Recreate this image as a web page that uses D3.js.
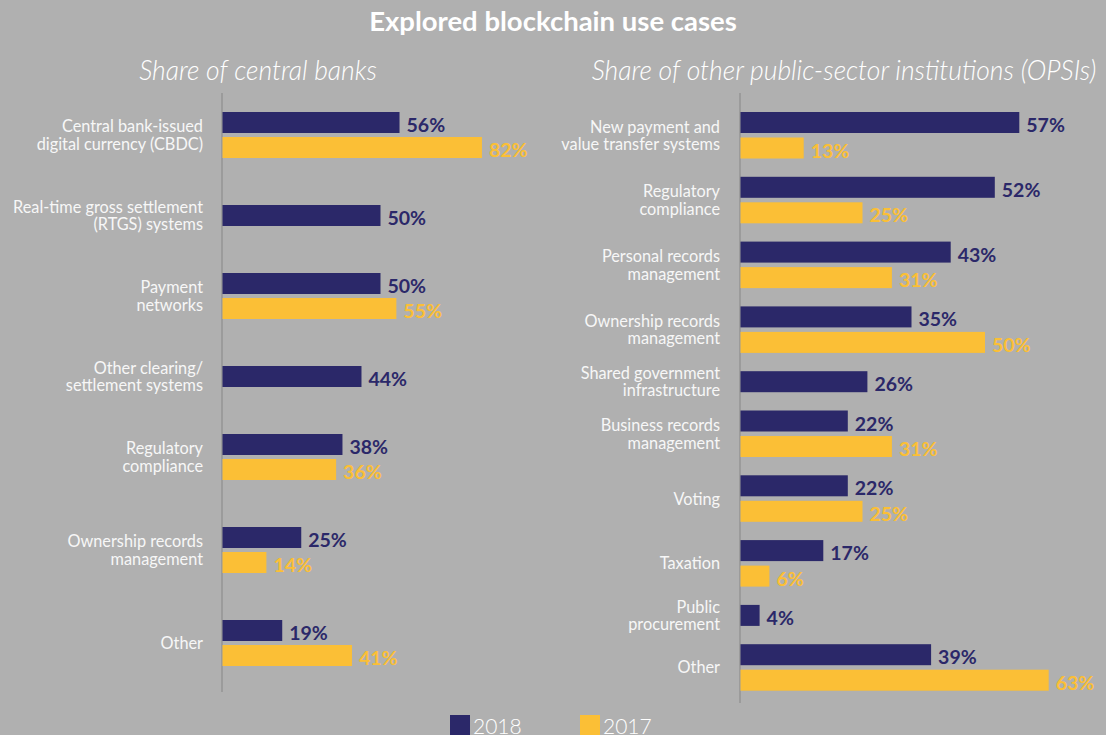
<!DOCTYPE html>
<html>
<head>
<meta charset="utf-8">
<script src="https://cdn.jsdelivr.net/npm/d3@7"></script>
<style>
  body { margin: 0; background: #b0b0b0; }
  svg { display: block; }
</style>
</head>
<body>
<script>
var W = 1106, H = 735;

// left panel: central banks
var cbCategories = ["Central bank-issued\ndigital currency (CBDC)", "Real-time gross settlement\n(RTGS) systems",
	"Payment\nnetworks", "Other clearing/\nsettlement systems", "Regulatory\ncompliance",
	"Ownership records\nmanagement", "Other"];
var cb2018 = [56, 50, 50, 44, 38, 25, 19];
var cb2017 = [82, null, 55, null, 36, 14, 41];

// right panel: OPSIs
var opsiCategories = ["New payment and\nvalue transfer systems", "Regulatory\ncompliance",
	"Personal records\nmanagement", "Ownership records\nmanagement", "Shared government\ninfrastructure",
	"Business records\nmanagement", "Voting", "Taxation", "Public\nprocurement", "Other"];
var opsi2018 = [57, 52, 43, 35, 26, 22, 22, 17, 4, 39];
var opsi2017 = [13, 25, 31, 50, null, 31, 25, 6, null, 63];

var years = ["2018", "2017"];
var colors = {"2018": "#2b2869", "2017": "#fbbf36"};

var svg = d3.select("body").append("svg")
	.attr("width", W)
	.attr("height", H);

svg.append("rect").attr("width", W).attr("height", H).attr("fill", "#b0b0b0");

svg.append("text")
	.attr("x", 553).attr("y", 31)
	.attr("text-anchor", "middle")
	.attr("font-family", "Lato")
	.attr("font-weight", 700)
	.attr("font-size", 27.5)
	.attr("fill", "#fff")
	.text("Explored blockchain use cases");

function panel(opt) {
	var g = svg.append("g");

	g.append("text")
		.attr("x", opt.titleX).attr("y", 80)
		.attr("text-anchor", "middle")
		.attr("font-family", "Lato")
		.attr("font-style", "italic")
		.attr("font-weight", 300)
		.attr("font-size", 26.5)
		.attr("fill", "#fff")
		.text(opt.title);

	var x = d3.scaleLinear().domain([0, 100]).range([opt.x0, opt.x0 + opt.pxPerPct * 100]);

	// stack groups; groups with one bar take less room
	var groups = [];
	var cur = opt.top;
	opt.categories.forEach(function(c, i) {
		var bars = [];
		if (opt.v2018[i] != null) bars.push({year: "2018", value: opt.v2018[i]});
		if (opt.v2017[i] != null) bars.push({year: "2017", value: opt.v2017[i]});
		bars.forEach(function(b, j) { b.y = cur + j * opt.step; });
		var end = cur + (bars.length - 1) * opt.step + opt.barH;
		groups.push({label: c, bars: bars, mid: (cur + end) / 2});
		cur = end + opt.gap;
	});

	g.append("line")
		.attr("x1", x(0)).attr("x2", x(0))
		.attr("y1", 93).attr("y2", opt.axisEnd)
		.attr("stroke", "#8e8e8e")
		.attr("stroke-width", 1.2);

	var grp = g.selectAll(".grp").data(groups).enter().append("g");

	grp.each(function(d) {
		var lines = d.label.split("\n");
		var t = d3.select(this).append("text")
			.attr("text-anchor", "end")
			.attr("font-family", "Lato")
			.attr("font-size", 16.3)
			.attr("fill", "#f7f7f7");
		lines.forEach(function(l, k) {
			t.append("tspan")
				.attr("x", opt.labelX)
				.attr("y", d.mid + 6 + (k - (lines.length - 1) / 2) * 17.5)
				.text(l);
		});
	});

	grp.selectAll("rect").data(function(d) { return d.bars; }).enter().append("rect")
		.attr("x", x(0) + 0.5)
		.attr("y", function(b) { return b.y; })
		.attr("width", function(b) { return x(b.value) - x(0) - 0.5; })
		.attr("height", opt.barH)
		.attr("fill", function(b) { return colors[b.year]; });

	grp.selectAll(".val").data(function(d) { return d.bars; }).enter().append("text")
		.attr("x", function(b) { return x(b.value) + 7; })
		.attr("y", function(b) { return b.y + opt.barH - 1; })
		.attr("font-family", "Lato")
		.attr("font-weight", 700)
		.attr("font-size", 19.5)
		.attr("fill", function(b) { return colors[b.year]; })
		.text(function(b) { return b.value + "%"; });
}

panel({title: "Share of central banks", titleX: 258, categories: cbCategories, v2018: cb2018, v2017: cb2017,
	x0: 222, pxPerPct: 3.17, labelX: 203, top: 112, barH: 21, step: 25, gap: 47, axisEnd: 692});
panel({title: "Share of other public-sector institutions (OPSIs)", titleX: 844, categories: opsiCategories,
	v2018: opsi2018, v2017: opsi2017, x0: 740, pxPerPct: 4.9, labelX: 720, top: 112, barH: 21, step: 25.5,
	gap: 18.3, axisEnd: 703});

// legend
var leg = svg.selectAll(".leg").data(years).enter().append("g")
	.attr("transform", function(d, i) { return "translate(" + (450 + i * 130) + ",715)"; });
leg.append("rect").attr("width", 20).attr("height", 20).attr("fill", function(d) { return colors[d]; });
leg.append("text")
	.attr("x", 23).attr("y", 19)
	.attr("font-family", "Lato")
	.attr("font-weight", 300)
	.attr("font-size", 21)
	.attr("fill", "#fff")
	.text(function(d) { return d; });
</script>
</body>
</html>
